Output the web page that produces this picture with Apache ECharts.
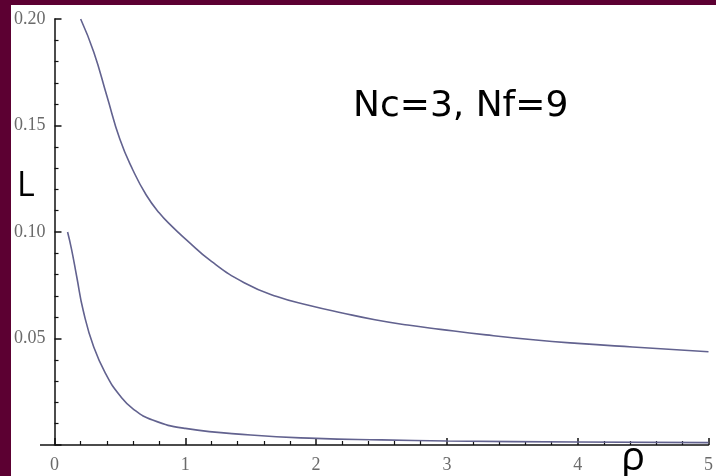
<!DOCTYPE html>
<html>
<head>
<meta charset="utf-8">
<script src="https://cdn.jsdelivr.net/npm/echarts@6/dist/echarts.min.js"></script>
<style>
html,body{margin:0;padding:0;width:716px;height:476px;overflow:hidden;background:#5c0032;}
#c{position:absolute;left:11px;top:5px;width:705px;height:471px;background:#fff;}
</style>
</head>
<body>
<div id="c"></div>
<script>
// Upper curve (rho, L)
const upperRho = [0.20, 0.30, 0.40, 0.50, 0.60, 0.70, 0.80, 0.90, 1.0, 1.2, 1.45, 1.7, 1.95, 2.2, 2.45, 2.7, 2.95, 3.3, 3.66, 4.0, 4.42, 5.0];
const upperL   = [0.200, 0.1845, 0.164, 0.1435, 0.129, 0.1175, 0.109, 0.1025, 0.0968, 0.0862, 0.0762, 0.0697, 0.0655, 0.062, 0.0588, 0.0563, 0.0543, 0.0517, 0.0494, 0.0477, 0.0460, 0.0438];
// Lower curve (rho, L)
const lowerRho = [0.10, 0.13, 0.17, 0.22, 0.30, 0.40, 0.50, 0.60, 0.75, 1.0, 1.5, 2.0, 2.5, 3.0, 4.0, 5.0];
const lowerL   = [0.100, 0.092, 0.079, 0.063, 0.046, 0.0325, 0.0232, 0.0170, 0.0117, 0.0078, 0.0047, 0.0031, 0.0024, 0.0019, 0.0014, 0.0011];
const xTicks = [0, 1, 2, 3, 4, 5];
const yTicks = [0.05, 0.10, 0.15, 0.20];
const annotation = "Nc=3, Nf=9";
const yName = "L";
const xName = "ρ";

const pairs = (xs, ys) => xs.map((x, i) => [x, ys[i]]);
const chart = echarts.init(document.getElementById('c'));
const axisStyle = {lineStyle: {color: '#111', width: 1.5}};
const labelFont = {color: '#6a6a6a', fontFamily: 'Liberation Serif', fontSize: 18};
chart.setOption({
  animation: false,
  backgroundColor: '#fff',
  grid: {left: 43, top: 14, right: 0, bottom: 31},
  xAxis: {
    type: 'value', min: 0, max: 5, interval: 1,
    axisLine: axisStyle,
    axisTick: {inside: true, length: 7, lineStyle: {color: '#111', width: 1.5}},
    minorTick: {show: true, splitNumber: 5, length: 4, lineStyle: {color: '#111', width: 1.2}},
    splitLine: {show: false},
    axisLabel: Object.assign({margin: 11, formatter: v => xTicks.includes(v) ? String(v) : ''}, labelFont)
  },
  yAxis: {
    type: 'value', min: 0, max: 0.2, interval: 0.05,
    axisLine: axisStyle,
    axisTick: {inside: true, length: 7, lineStyle: {color: '#111', width: 1.5}},
    minorTick: {show: true, splitNumber: 5, length: 4, lineStyle: {color: '#111', width: 1.2}},
    splitLine: {show: false},
    axisLabel: Object.assign({margin: 9, formatter: v => yTicks.some(t => Math.abs(t - v) < 1e-9) ? v.toFixed(2) : ''}, labelFont)
  },
  series: [
    {type: 'line', data: pairs(upperRho, upperL), smooth: 0.5, showSymbol: false,
     lineStyle: {color: '#62628f', width: 1.6}},
    {type: 'line', data: pairs(lowerRho, lowerL), smooth: 0.5, showSymbol: false,
     lineStyle: {color: '#62628f', width: 1.6}}
  ],
  graphic: [
    {type: 'text', left: 342, top: 84, style: {text: annotation, font: '36px "DejaVu Sans"', fill: '#000'}},
    {type: 'text', left: 6, top: 164, style: {text: yName, font: '34px "Open Sans"', fill: '#000'}},
    {type: 'text', left: 610, top: 434, style: {text: xName, font: '40px "Open Sans"', fill: '#000'}},
    {type: 'line', shape: {x1: 29, y1: 440, x2: 43, y2: 440}, style: {stroke: '#111', lineWidth: 1.5}}
  ]
});
</script>
</body>
</html>
